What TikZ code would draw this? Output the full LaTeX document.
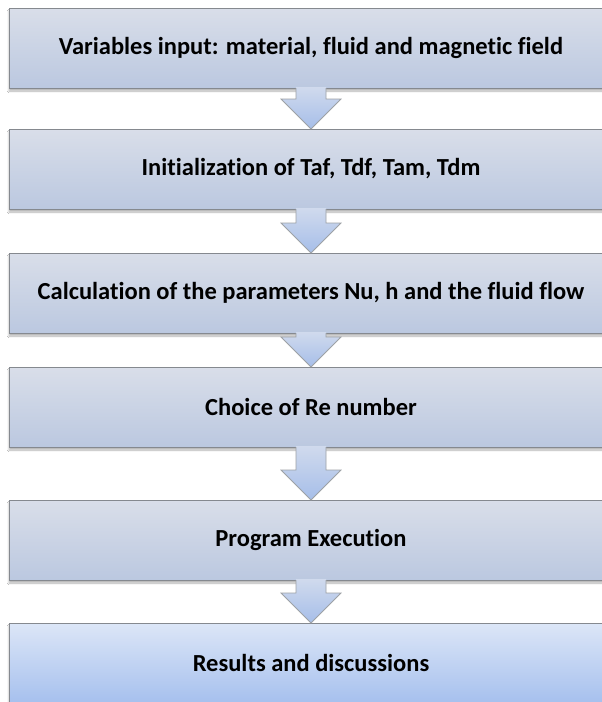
\documentclass[tikz,border=0pt]{standalone}
\usepackage{fontspec}
\setmainfont[Ligatures=NoCommon]{Carlito}
\usetikzlibrary{positioning,calc,shadows.blur}

\definecolor{stagetop}{HTML}{D9DEE9}
\definecolor{stagebottom}{HTML}{BBC8E0}
\definecolor{lasttop}{HTML}{DCE6F7}
\definecolor{lastbottom}{HTML}{A6C0EE}
\definecolor{arrowtop}{HTML}{D0DAED}
\definecolor{arrowbottom}{HTML}{A6BEE9}
\definecolor{rim}{HTML}{85898F}

\tikzset{
  stage/.style={draw=rim, line width=1pt, top color=stagetop, bottom color=stagebottom,
    minimum width=604pt, minimum height=80pt, inner sep=0pt, outer sep=0pt,
    font=\bfseries\fontsize{24.5}{28}\selectfont,
    blur shadow={shadow xshift=0pt, shadow yshift=-3pt, shadow blur steps=6, shadow opacity=30}},
  last stage/.style={stage, top color=lasttop, bottom color=lastbottom},
  flowfill/.style={top color=arrowtop, bottom color=arrowbottom},
  flowline/.style={draw=rim!80, line width=0.8pt, line join=miter}
}

% block arrow from the bottom of #1 down to the top of #2
\newcommand{\flowarrow}[2]{%
  \path[flowfill] ($(#1.south)+(-15pt,1pt)$) -- ($(#2.north)+(-15pt,30pt)$)
    -- ($(#2.north)+(-30pt,30pt)$) -- (#2.north) -- ($(#2.north)+(30pt,30pt)$)
    -- ($(#2.north)+(15pt,30pt)$) -- ($(#1.south)+(15pt,1pt)$) -- cycle;
  \draw[flowline] ($(#1.south)+(-15pt,0pt)$) -- ($(#2.north)+(-15pt,30pt)$)
    -- ($(#2.north)+(-30pt,30pt)$) -- (#2.north) -- ($(#2.north)+(30pt,30pt)$)
    -- ($(#2.north)+(15pt,30pt)$) -- ($(#1.south)+(15pt,0pt)$);
}

\begin{document}
\begin{tikzpicture}
    \useasboundingbox[fill=white] (0,0) rectangle (602pt,-702pt);

    % Define nodes
    \node[stage] (input) at (311pt,-48pt) {Variables input: material, fluid and magnetic field};
    \node[stage, below = 41pt of input] (init) {Initialization of Taf, Tdf, Tam, Tdm};
    \node[stage, below = 44pt of init] (calc) {Calculation of the parameters Nu, h and the fluid flow};
    \node[stage, below = 34pt of calc] (reynolds) {Choice of Re number};
    \node[stage, below = 53pt of reynolds] (run) {Program Execution};
    \node[last stage, below = 43pt of run] (results) {Results and discussions};

    % Connect nodes
    \flowarrow{input}{init}
    \flowarrow{init}{calc}
    \flowarrow{calc}{reynolds}
    \flowarrow{reynolds}{run}
    \flowarrow{run}{results}
\end{tikzpicture}
\end{document}
